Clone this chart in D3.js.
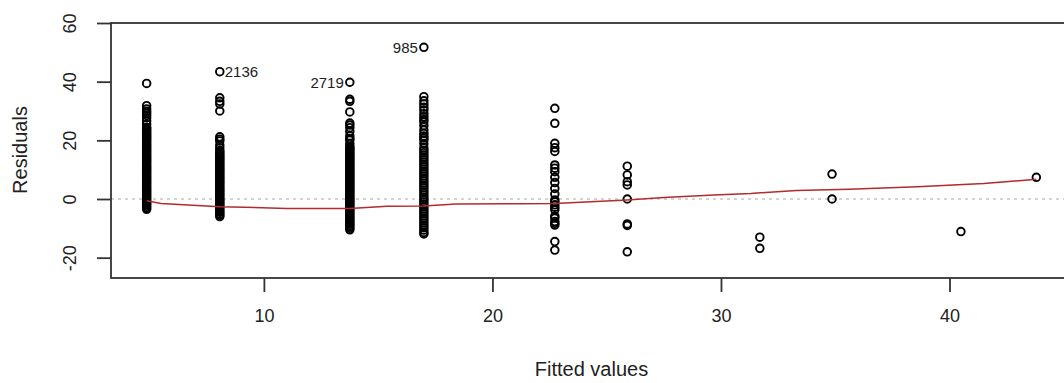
<!DOCTYPE html>
<html>
<head>
<meta charset="utf-8">
<script src="https://cdn.jsdelivr.net/npm/d3@7"></script>
<style>
  body { margin: 0; background: #fff; }
  svg { display: block; font-family: "Liberation Sans", Arial, sans-serif; }
</style>
</head>
<body>
<svg id="chart" width="1064" height="383"></svg>
<script>
// fitted value of each vertical column of residuals
var fittedLevels = [4.87, 8.07, 13.76, 17.0, 22.73, 25.9, 31.7, 34.86, 40.5, 43.8];

// residuals, one array per fitted level
var res_4_87 = [39.4, 31.8, 30.7, 29.9, 29.2, 28.5, 27.7, 26.6, 25.5,
  24.5, 24, 23.5, 23, 22.5, 22, 21.5, 21, 20.5, 20, 19.5, 19, 18.5, 18, 17.5, 17, 16.5, 16,
  15.5, 15, 14.5, 14, 13.5, 13, 12.5, 12, 11.5, 11, 10.5, 10, 9.5, 9, 8.5, 8, 7.5, 7, 6.5, 6,
  5.5, 5, 4.5, 4, 3.5, 3, 2.5, 2, 1.5, 1, 0.5, 0, -0.5, -1, -1.5, -2, -2.5, -3, -3.5];
var res_8_07 = [43.4, 34.5, 33.3, 32.4, 30.0, 21.2, 20.4, 19.8, 18.4, 17.4,
  16.5, 16, 15.5, 15, 14.5, 14, 13.5, 13, 12.5, 12, 11.5, 11, 10.5, 10, 9.5, 9, 8.5, 8, 7.5,
  7, 6.5, 6, 5.5, 5, 4.5, 4, 3.5, 3, 2.5, 2, 1.5, 1, 0.5, 0, -0.5, -1, -1.5, -2, -2.5, -3,
  -3.5, -4, -4.5, -5, -5.5, -6];
var res_13_76 = [39.8, 34.0, 33.3, 29.7, 25.9, 25.2, 24.3, 23.0, 21.5, 20.6, 20.1, 18.9,
  18, 17.5, 17, 16.5, 16, 15.5, 15, 14.5, 14, 13.5, 13, 12.5, 12, 11.5, 11, 10.5, 10, 9.5, 9,
  8.5, 8, 7.5, 7, 6.5, 6, 5.5, 5, 4.5, 4, 3.5, 3, 2.5, 2, 1.5, 1, 0.5, 0, -0.5, -1, -1.5, -2,
  -2.5, -3, -3.5, -4, -4.5, -5, -5.5, -6, -6.5, -7, -7.5, -8, -8.5, -9, -9.5, -10, -10.5];
var res_17_00 = [51.7, 34.9, 33.5, 32.4, 31.3, 30.3, 29.1, 28.0, 27.1, 26.3, 25.0, 23.5,
  22.4, 21.5, 20.8, 20.1, 18.8, 17.4, 16.6, 15.8, 15.0, 14.2, 13.4, 12.6, 11.8, 11.0, 10.2,
  9.4, 8.6, 7.8, 7.0, 6.2, 5.4, 4.6, 3.8, 3.0, 2.2, 1.4, 0.6, -0.2, -1.0, -1.8, -2.6, -3.4,
  -4.2, -5.0, -5.8, -6.6, -7.4, -8.2, -9.0, -9.8, -10.6, -11.4, -11.9];
var res_22_73 = [30.9, 25.8, 19.0, 17.5, 16.2, 11.6, 10.5, 9.3, 7.4, 5.6, 3.6, 1.7, -0.3,
  -1.0, -2.0, -2.8, -3.7, -5.8, -6.5, -7.7, -8.3, -8.9, -14.5, -17.4];
var res_25_9 = [11.2, 8.2, 5.9, 4.8, 0, -8.5, -9.0, -18.0];
var res_31_7 = [-13.0, -16.8];
var res_34_86 = [8.5, 0];
var res_40_5 = [-11.1];
var res_43_8 = [7.4];

// labelled observations
var idLabels = ["2136", "2719", "985"];
var idFitted = [8.07, 13.76, 17.0];
var idResid = [43.4, 39.8, 51.7];
var idSide = ["right", "left", "left"];

// smoother (red line)
var smoothX = [4.87, 5.5, 6.5, 8.07, 11, 13.76, 15.4, 17, 18.4, 21.3, 22.73, 25.9, 27.5,
  29.7, 31.3, 33.3, 35.6, 38.6, 41.5, 43.8];
var smoothY = [-0.6, -1.5, -2.0, -2.6, -3.2, -3.2, -2.5, -2.4, -1.7, -1.6, -1.5, -0.3, 0.5,
  1.4, 1.9, 2.9, 3.3, 4.2, 5.3, 6.7];

var xTicks = [10, 20, 30, 40];
var yTicks = [-20, 0, 20, 40, 60];

var groups = [res_4_87, res_8_07, res_13_76, res_17_00, res_22_73, res_25_9,
  res_31_7, res_34_86, res_40_5, res_43_8];
var points = [];
groups.forEach(function(arr, i) {
  arr.forEach(function(r) { points.push({fit: fittedLevels[i], res: r}); });
});

var svg = d3.select("#chart");
var plotL = 111, plotR = 1072, plotT = 23, plotB = 278;

var x = d3.scaleLinear().domain([3.31, 45.36]).range([plotL, plotR]);
var y = d3.scaleLinear().domain([-26.93, 60]).range([plotB, plotT]);

// zero reference line
svg.append("line")
  .attr("x1", plotL).attr("x2", plotR)
  .attr("y1", y(0)).attr("y2", y(0))
  .attr("stroke", "#a8a8a8").attr("stroke-width", 1)
  .attr("stroke-dasharray", "3,4");

// points
svg.append("g").selectAll("circle")
  .data(points)
  .enter().append("circle")
  .attr("cx", function(d) { return x(d.fit); })
  .attr("cy", function(d) { return y(d.res); })
  .attr("r", 3.8)
  .attr("fill", "none")
  .attr("stroke", "#000")
  .attr("stroke-width", 1.9);

// smoother
var line = d3.line()
  .x(function(d, i) { return x(smoothX[i]); })
  .y(function(d, i) { return y(smoothY[i]); });
svg.append("path")
  .attr("d", line(smoothX))
  .attr("fill", "none")
  .attr("stroke", "#b32b2b")
  .attr("stroke-width", 1.5);

// id labels
svg.append("g").selectAll("text")
  .data(idLabels)
  .enter().append("text")
  .attr("x", function(d, i) { return x(idFitted[i]) + (idSide[i] == "right" ? 5 : -6); })
  .attr("y", function(d, i) { return y(idResid[i]); })
  .attr("dy", "0.36em")
  .attr("text-anchor", function(d, i) { return idSide[i] == "right" ? "start" : "end"; })
  .attr("font-size", 15)
  .attr("fill", "#222")
  .text(function(d) { return d; });

// box
svg.append("rect")
  .attr("x", plotL).attr("y", plotT)
  .attr("width", plotR - plotL).attr("height", plotB - plotT)
  .attr("fill", "none").attr("stroke", "#333").attr("stroke-width", 1.8);

// axes
var xAxis = svg.append("g")
  .attr("transform", "translate(0," + plotB + ")")
  .call(d3.axisBottom(x).tickValues(xTicks).tickSize(14).tickPadding(17)
    .tickFormat(function(d) { return String(d); }));
var yAxis = svg.append("g")
  .attr("transform", "translate(" + plotL + ",0)")
  .call(d3.axisLeft(y).tickValues(yTicks).tickSize(14)
    .tickFormat(function(d) { return String(d); }));

[xAxis, yAxis].forEach(function(g) {
  g.select(".domain").remove();
  g.selectAll("line").attr("stroke", "#333").attr("stroke-width", 1.8);
  g.selectAll("text").attr("font-size", 18).attr("fill", "#222")
    .attr("font-family", "Liberation Sans, Arial, sans-serif");
});

yAxis.selectAll("text")
  .attr("x", null)
  .attr("dy", "0.36em")
  .attr("text-anchor", "middle")
  .attr("transform", "translate(-41,0) rotate(-90)");

// axis titles
svg.append("text")
  .attr("x", (plotL + plotR) / 2).attr("y", 369)
  .attr("dy", "0.36em")
  .attr("text-anchor", "middle")
  .attr("font-size", 20).attr("fill", "#222")
  .text("Fitted values");

svg.append("text")
  .attr("transform", "translate(20," + 150 + ") rotate(-90)")
  .attr("dy", "0.36em")
  .attr("text-anchor", "middle")
  .attr("font-size", 20).attr("fill", "#222")
  .text("Residuals");
</script>
</body>
</html>
